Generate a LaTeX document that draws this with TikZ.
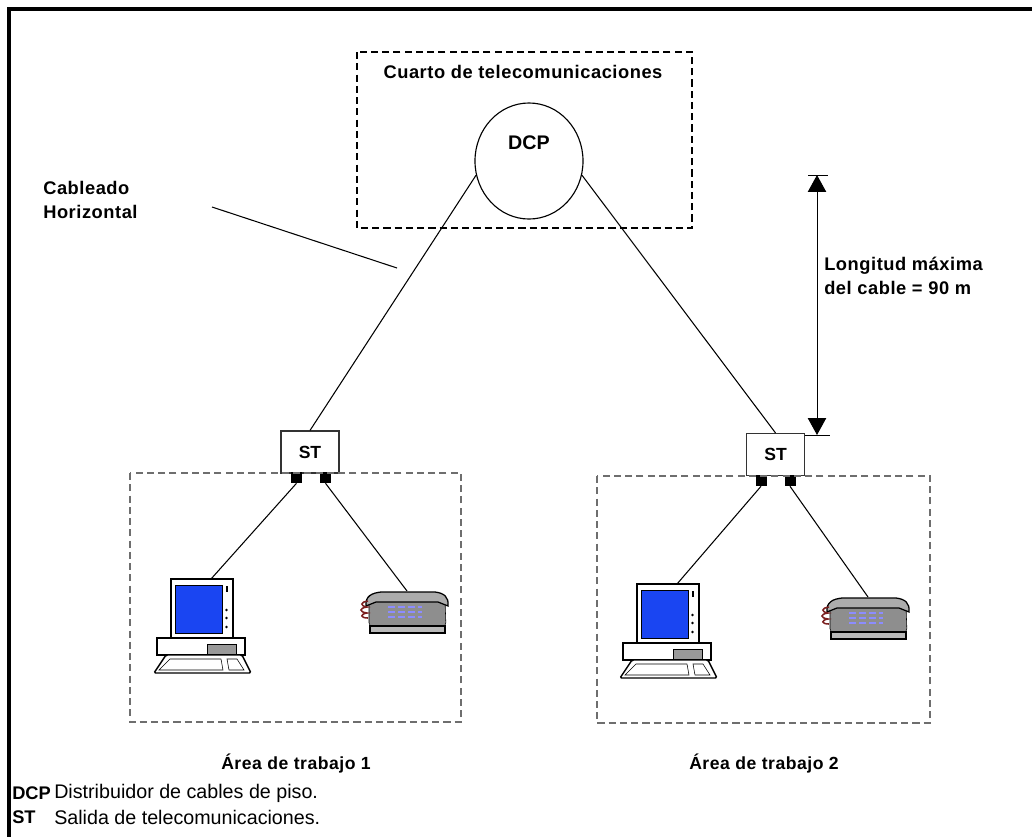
\documentclass[tikz,border=0pt]{standalone}
\usepackage{fontspec}
\setmainfont{Liberation Sans}
\usetikzlibrary{arrows.meta,positioning,calc,shapes.geometric}
\definecolor{pantallaAzul}{HTML}{1A45F2}
\definecolor{telGris}{HTML}{8E8E8E}
\definecolor{teclaAzul}{HTML}{8C8CFF}
\definecolor{cordonRojo}{HTML}{7B2020}
\definecolor{areaGris}{HTML}{6E6E6E}

%% computer: origin at the top-left corner of the monitor
\newcommand{\equipoPC}[2]{%
  \begin{scope}[shift={#1}]
    \draw[line width=1pt,fill=white] (0,0) rectangle (62,59);
    \draw[fill=pantallaAzul] (4,6) rectangle (51,54);
    \fill (54.5,7) rectangle (56.5,13);
    \foreach \dy in {31,39,48} \fill (55.5,\dy) circle (1.3);
    \draw[line width=1pt,fill=white] (-14,59) rectangle (74,76);
    \draw[fill=gray!80] (36,65) rectangle (65,75);
    \draw[line width=1pt,fill=white,rounded corners=1pt]
      (-5,76) -- (71,76) -- (80,94) -- (-17,94) -- cycle;
    \draw[fill=white] (-1,80) -- (50,80) -- (52,91) -- (-12,91) -- cycle;
    \draw[fill=white] (56,80) -- (66,80) -- (73,91) -- (58,91) -- cycle;
    \coordinate (#2) at (40,0);
  \end{scope}}

%% telephone: origin where the cable reaches the handset
\newcommand{\equipoTel}[2]{%
  \begin{scope}[shift={#1}]
    \draw[fill=telGris,rounded corners=3pt] (-38,9) -- (38,9) -- (39,36) -- (-38,36) -- cycle;
    \draw[fill=gray!55,line width=0.9pt] (-37,35) rectangle (38,42);
    \draw[fill=gray!65,line width=0.9pt]
      (-41,15) .. controls (-42,5) and (-35,2) .. (-26,1) -- (28,1)
      .. controls (37,2) and (42,6) .. (41,15) -- (31,11) -- (-31,11) -- cycle;
    \foreach \dy in {16,21,26}
      \draw[teclaAzul,line width=1.4pt,dash pattern=on 5pt off 2pt] (-19,\dy) -- (15,\dy);
    \draw[cordonRojo,line width=1.1pt]
      (-39,10) .. controls (-47,11) and (-47,15) .. (-40,16)
      .. controls (-48,17) and (-48,21) .. (-40,22)
      .. controls (-47,23) and (-47,27) .. (-39,27);
    \coordinate (#2) at (0,0);
  \end{scope}}

\begin{document}
\begin{tikzpicture}[
    x=0.025cm, y=-0.025cm,
    >={Triangle[width=13pt,length=12pt]},
    txt/.style={font=\fontsize{13}{17}\selectfont\bfseries\addfontfeature{LetterSpace=3},inner sep=0pt},
    sala/.style={draw,dashed,dash pattern=on 5pt off 3pt,line width=0.8pt},
    area/.style={draw=areaGris,dash pattern=on 5pt off 3pt,line width=0.8pt},
    dcp/.style={ellipse,draw,line width=0.8pt,minimum width=2.7cm,minimum height=2.9cm,inner sep=0pt},
    st/.style={rectangle,draw=black!80,line width=0.8pt,fill=white,minimum width=1.45cm,
               minimum height=1.05cm,font=\fontsize{12.5}{14}\selectfont\bfseries},
    puerto/.style={rectangle,fill=black,minimum size=0.275cm,inner sep=0pt},
    cable/.style={line width=0.75pt},
    cota/.style={<->,line width=0.7pt},
    leyenda/.style={font=\fontsize{14}{16}\selectfont,anchor=west,inner sep=0pt},
    clave/.style={font=\fontsize{13}{16}\selectfont\bfseries,anchor=west,inner sep=0pt}
  ]
  \useasboundingbox (0,0) rectangle (1032,837);
  %% frame
  \draw[line width=2.6pt] (1032,9) -- (9,9) -- (9,837);

  %% telecom room
  \draw[sala] (357,52) rectangle (692,228);
  \node[txt] (sala) at (523,72) {Cuarto de telecomunicaciones};
  \node[dcp] (dcp) at (529,161) {};
  \node[font=\fontsize{14}{16}\selectfont\bfseries] (dcptxt) at (529,143) {DCP};

  %% outlets
  \node[st] (st1) at (310,452) {ST};
  \node[st] (st2) at (775.5,454.5) {ST};
  \node[puerto] (p1a) at (296.5,477.5) {};
  \node[puerto] (p1b) at (325.5,477.5) {};
  \node[puerto] (p2a) at (761,480.5) {};
  \node[puerto] (p2b) at (790,480.5) {};

  %% horizontal cabling
  \draw[cable] (dcp.195) -- (st1.north);
  \draw[cable] (dcp.-15) -- (st2.north);
  \node[txt,align=left,anchor=west] (cab) at (43,200) {Cableado\\Horizontal};
  \coordinate (cabA) at (212,207);
  \coordinate (cabB) at (397,268);
  \draw[cable] (cabA) -- (cabB);

  %% max length
  \coordinate (cotaA) at (817,175);
  \coordinate (cotaB) at (817,435);
  \draw[line width=0.7pt] (808,175) -- (828,175);
  \draw[line width=0.7pt] (805,435) -- (830,435);
  \draw[cota] (cotaA) -- (cotaB);
  \node[txt,align=left,anchor=west] (lmax) at (824,276) {Longitud máxima\\del cable = 90 m};

  %% work areas
  \draw[area] (130,473) rectangle (461,722);
  \draw[area] (597,476) rectangle (930,723);
  \equipoPC{(171,579)}{pc1}
  \equipoTel{(407,591)}{tel1}
  \equipoPC{(637,584)}{pc2}
  \equipoTel{(868,597)}{tel2}
  \draw[cable] (p1a.south) -- (pc1);
  \draw[cable] (p1b.south) -- (tel1);
  \draw[cable] (p2a.south) -- (pc2);
  \draw[cable] (p2b.south) -- (tel2);
  \node[txt,font=\fontsize{12.5}{15}\selectfont\bfseries\addfontfeature{LetterSpace=3}] (a1) at (296,764) {Área de trabajo 1};
  \node[txt,font=\fontsize{12.5}{15}\selectfont\bfseries\addfontfeature{LetterSpace=3}] (a2) at (764,764) {Área de trabajo 2};

  %% legend
  \node[clave] (kdcp) at (12,793) {DCP};
  \node[leyenda] (ddcp) at (54,793) {Distribuidor de cables de piso.};
  \node[clave] (kst) at (12,817) {ST};
  \node[leyenda] (dst) at (54,817) {Salida de telecomunicaciones.};
\end{tikzpicture}
\end{document}
